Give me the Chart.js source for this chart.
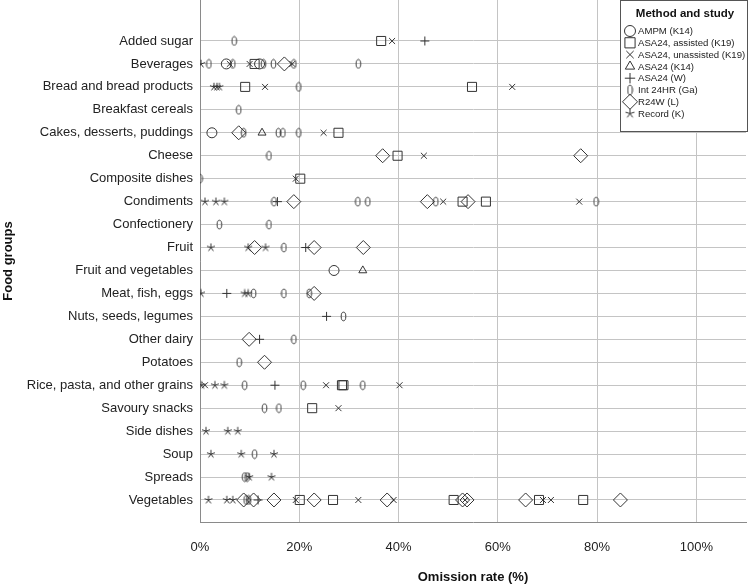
<!DOCTYPE html>
<html>
<head>
<meta charset="UTF-8">
<title>Omission rate by food group</title>
<script src="https://cdn.jsdelivr.net/npm/chart.js"></script>
<style>
  body {
    margin: 0;
    padding: 0;
    background-color: #fff;
  }
  #wrap {
    width: 752px;
    height: 585px;
  }
</style>
</head>
<body>
<div id="wrap"><canvas id="dotChart"></canvas></div>

<script>
  // categories (top to bottom) and x ticks
  const categories = [
    "Added sugar", "Beverages", "Bread and bread products", "Breakfast cereals",
    "Cakes, desserts, puddings", "Cheese", "Composite dishes", "Condiments",
    "Confectionery", "Fruit", "Fruit and vegetables", "Meat, fish, eggs",
    "Nuts, seeds, legumes", "Other dairy", "Potatoes", "Rice, pasta, and other grains",
    "Savoury snacks", "Side dishes", "Soup", "Spreads", "Vegetables"
  ];
  const xTicks = [0, 20, 40, 60, 80, 100];

  // omission rates (%) per method and study
  const ampm = [
    ["Beverages", 5.3], ["Beverages", 12.0], ["Cakes, desserts, puddings", 2.4],
    ["Fruit and vegetables", 27.0]
  ];
  const asaAssisted = [
    ["Added sugar", 36.5], ["Beverages", 11.0], ["Bread and bread products", 9.1],
    ["Bread and bread products", 54.8], ["Cakes, desserts, puddings", 27.9], ["Cheese", 39.8],
    ["Composite dishes", 20.2], ["Condiments", 52.9], ["Condiments", 57.6],
    ["Rice, pasta, and other grains", 28.6], ["Rice, pasta, and other grains", 28.9],
    ["Savoury snacks", 22.6], ["Vegetables", 20.1], ["Vegetables", 26.8],
    ["Vegetables", 51.1], ["Vegetables", 68.3], ["Vegetables", 77.2]
  ];
  const asaUnassisted = [
    ["Added sugar", 38.7], ["Beverages", 6.0], ["Beverages", 10.0], ["Beverages", 18.6],
    ["Bread and bread products", 13.1], ["Bread and bread products", 62.9],
    ["Cakes, desserts, puddings", 24.9], ["Cheese", 45.1], ["Composite dishes", 19.3],
    ["Condiments", 49.0], ["Condiments", 76.4], ["Rice, pasta, and other grains", 1.0],
    ["Rice, pasta, and other grains", 25.4], ["Rice, pasta, and other grains", 40.2],
    ["Savoury snacks", 27.9], ["Vegetables", 19.3], ["Vegetables", 31.9],
    ["Vegetables", 39.0], ["Vegetables", 53.4], ["Vegetables", 69.1], ["Vegetables", 70.7]
  ];
  const asaK14 = [
    ["Cakes, desserts, puddings", 12.5], ["Fruit and vegetables", 32.8]
  ];
  const asaW = [
    ["Added sugar", 45.3], ["Condiments", 15.6], ["Fruit", 21.3], ["Meat, fish, eggs", 5.4],
    ["Nuts, seeds, legumes", 25.5], ["Other dairy", 12.0],
    ["Rice, pasta, and other grains", 15.1], ["Vegetables", 11.7]
  ];
  const int24hr = [
    ["Added sugar", 6.9], ["Beverages", 1.8], ["Beverages", 6.6], ["Beverages", 12.8],
    ["Beverages", 14.8], ["Beverages", 18.9], ["Beverages", 31.9],
    ["Bread and bread products", 19.9], ["Breakfast cereals", 7.8],
    ["Cakes, desserts, puddings", 8.8], ["Cakes, desserts, puddings", 15.8],
    ["Cakes, desserts, puddings", 16.7], ["Cakes, desserts, puddings", 19.9],
    ["Cheese", 13.9], ["Composite dishes", 0.0], ["Condiments", 14.9], ["Condiments", 31.8],
    ["Condiments", 33.8], ["Condiments", 47.5], ["Condiments", 79.8],
    ["Confectionery", 3.9], ["Confectionery", 13.9], ["Fruit", 16.9],
    ["Meat, fish, eggs", 10.8], ["Meat, fish, eggs", 16.9], ["Meat, fish, eggs", 22.0],
    ["Nuts, seeds, legumes", 28.9], ["Other dairy", 18.9], ["Potatoes", 7.9],
    ["Rice, pasta, and other grains", 9.0], ["Rice, pasta, and other grains", 20.8],
    ["Rice, pasta, and other grains", 32.8], ["Savoury snacks", 13.0],
    ["Savoury snacks", 15.9], ["Soup", 11.0], ["Spreads", 9.0], ["Spreads", 9.5],
    ["Vegetables", 9.3], ["Vegetables", 9.8]
  ];
  const r24w = [
    ["Beverages", 17.0], ["Cakes, desserts, puddings", 7.8], ["Cheese", 36.8], ["Cheese", 76.7],
    ["Condiments", 18.9], ["Condiments", 45.8], ["Condiments", 54.0], ["Fruit", 11.0],
    ["Fruit", 23.0], ["Fruit", 32.9], ["Meat, fish, eggs", 23.0], ["Other dairy", 9.9],
    ["Potatoes", 13.0], ["Vegetables", 8.8], ["Vegetables", 10.8], ["Vegetables", 14.9],
    ["Vegetables", 23.0], ["Vegetables", 37.7], ["Vegetables", 52.9], ["Vegetables", 53.8],
    ["Vegetables", 65.6], ["Vegetables", 84.7]
  ];
  const record = [
    ["Beverages", 0.2], ["Bread and bread products", 2.8], ["Bread and bread products", 3.4],
    ["Bread and bread products", 3.9], ["Condiments", 1.0], ["Condiments", 3.2],
    ["Condiments", 4.9], ["Fruit", 2.2], ["Fruit", 9.7], ["Fruit", 13.2],
    ["Meat, fish, eggs", 0.2], ["Meat, fish, eggs", 9.0], ["Meat, fish, eggs", 9.7],
    ["Rice, pasta, and other grains", 0.3], ["Rice, pasta, and other grains", 3.0],
    ["Rice, pasta, and other grains", 4.9], ["Side dishes", 1.2], ["Side dishes", 5.6],
    ["Side dishes", 7.6], ["Soup", 2.2], ["Soup", 8.3], ["Soup", 14.9], ["Spreads", 9.9],
    ["Spreads", 14.4], ["Vegetables", 1.7], ["Vegetables", 5.4], ["Vegetables", 6.6]
  ];

  const FONT = '"Liberation Sans", Arial, sans-serif';
  const INK = "#333";

  // custom marks: narrow ellipse ("0") and 5-spoke asterisk
  function ellipseMark(w, h) {
    const c = document.createElement("canvas");
    c.width = w; c.height = h;
    const g = c.getContext("2d");
    g.strokeStyle = INK;
    g.lineWidth = 1;
    g.beginPath();
    g.ellipse(w / 2, h / 2, w / 2 - 1.2, h / 2 - 1.2, 0, 0, Math.PI * 2);
    g.stroke();
    return c;
  }
  function starMark(size) {
    const c = document.createElement("canvas");
    c.width = size; c.height = size;
    const g = c.getContext("2d");
    const r = size / 2 - 0.8;
    g.strokeStyle = INK;
    g.lineWidth = 1;
    g.beginPath();
    for (let k = 0; k < 5; k++) {
      const a = -Math.PI / 2 + k * 2 * Math.PI / 5;
      g.moveTo(size / 2, size / 2);
      g.lineTo(size / 2 + Math.cos(a) * r, size / 2 + Math.sin(a) * r);
    }
    g.stroke();
    return c;
  }

  const series = [
    { label: "AMPM (K14)", rows: ampm, style: "circle", r: 5, lr: 5.5 },
    { label: "ASA24, assisted (K19)", rows: asaAssisted, style: "rect", r: 6.4, lr: 7.2 },
    { label: "ASA24, unassisted (K19)", rows: asaUnassisted, style: "crossRot", r: 4.2, lr: 5.2 },
    { label: "ASA24 (K14)", rows: asaK14, style: "triangle", r: 4.6, lr: 5.4 },
    { label: "ASA24 (W)", rows: asaW, style: "cross", r: 4.5, lr: 5.2 },
    { label: "Int 24HR (Ga)", rows: int24hr, style: ellipseMark(7, 11), r: 5, lr: 5, legendStyle: ellipseMark(7, 12) },
    { label: "R24W (L)", rows: r24w, style: "rectRot", r: 7, lr: 7.5 },
    { label: "Record (K)", rows: record, style: starMark(10), r: 5, lr: 5, legendStyle: starMark(11) }
  ];

  const datasets = series.map(s => ({
    label: s.label,
    data: s.rows.map(([cat, v]) => ({ x: v, y: categories.indexOf(cat) })),
    pointStyle: s.style,
    pointRadius: s.r,
    pointHoverRadius: s.r,
    pointBorderWidth: 1,
    pointBorderColor: INK,
    pointBackgroundColor: "rgba(0,0,0,0)",
    showLine: false,
    legendStyle: s.legendStyle || s.style,
    legendRadius: s.lr
  }));

  const legendBox = {
    id: "legendBox",
    afterDraw(chart) {
      const ctx = chart.ctx;
      ctx.save();
      ctx.fillStyle = "#fff";
      ctx.strokeStyle = "#555";
      ctx.lineWidth = 1;
      ctx.fillRect(620.5, 0.5, 127, 131);
      ctx.strokeRect(620.5, 0.5, 127, 131);
      ctx.fillStyle = "#111";
      ctx.font = "bold 11.5px " + FONT;
      ctx.textAlign = "center";
      ctx.textBaseline = "middle";
      ctx.fillText("Method and study", 685, 14);
      ctx.font = "9.6px " + FONT;
      ctx.textAlign = "left";
      const drawPoint = Chart.helpers && Chart.helpers.drawPoint;
      chart.data.datasets.forEach((ds, i) => {
        const y = 31 + i * 11.8;
        if (drawPoint) {
          ctx.strokeStyle = INK;
          ctx.fillStyle = "rgba(0,0,0,0)";
          ctx.lineWidth = 1;
          drawPoint(ctx, { pointStyle: ds.legendStyle, radius: ds.legendRadius, borderWidth: 1, rotation: 0 }, 630, y);
        }
        ctx.fillStyle = "#222";
        ctx.fillText(ds.label, 638, y + 0.5);
      });
      ctx.restore();
    }
  };

  Chart.defaults.font.family = FONT;
  Chart.defaults.color = "#222";

  const ctx = document.getElementById("dotChart").getContext("2d");
  new Chart(ctx, {
    type: "scatter",
    data: { datasets: datasets },
    plugins: [legendBox],
    options: {
      responsive: true,
      maintainAspectRatio: false,
      animation: false,
      layout: { autoPadding: false, padding: { left: 0, right: 6, top: 0, bottom: 0 } },
      plugins: {
        legend: { display: false },
        tooltip: { enabled: false }
      },
      scales: {
        x: {
          type: "linear",
          min: 0,
          max: 110,
          afterBuildTicks: s => { s.ticks = xTicks.map(v => ({ value: v })); },
          afterFit: s => { s.height = 63; s.paddingLeft = 0; s.paddingRight = 0; },
          grid: { color: "#c4c4c4", drawTicks: false },
          border: { color: "#8a8a8a" },
          ticks: {
            padding: 18,
            font: { size: 13 },
            callback: v => v + "%"
          },
          title: {
            display: true,
            text: "Omission rate (%)",
            font: { size: 13, weight: "bold" },
            color: "#111",
            padding: { top: 0, bottom: 0 }
          }
        },
        y: {
          type: "linear",
          reverse: true,
          min: -1.786,
          max: 20.96,
          afterBuildTicks: s => { s.ticks = categories.map((c, i) => ({ value: i })); },
          afterFit: s => { s.width = 200; s.paddingTop = 0; s.paddingBottom = 0; },
          grid: { color: "#c4c4c4", drawTicks: false },
          border: { color: "#8a8a8a" },
          ticks: {
            padding: 7,
            autoSkip: false,
            font: { size: 13 },
            callback: v => categories[v]
          },
          title: {
            display: true,
            text: "Food groups",
            font: { size: 13, weight: "bold" },
            color: "#111",
            padding: { top: 1, bottom: 0 }
          }
        }
      }
    }
  });
</script>
</body>
</html>
